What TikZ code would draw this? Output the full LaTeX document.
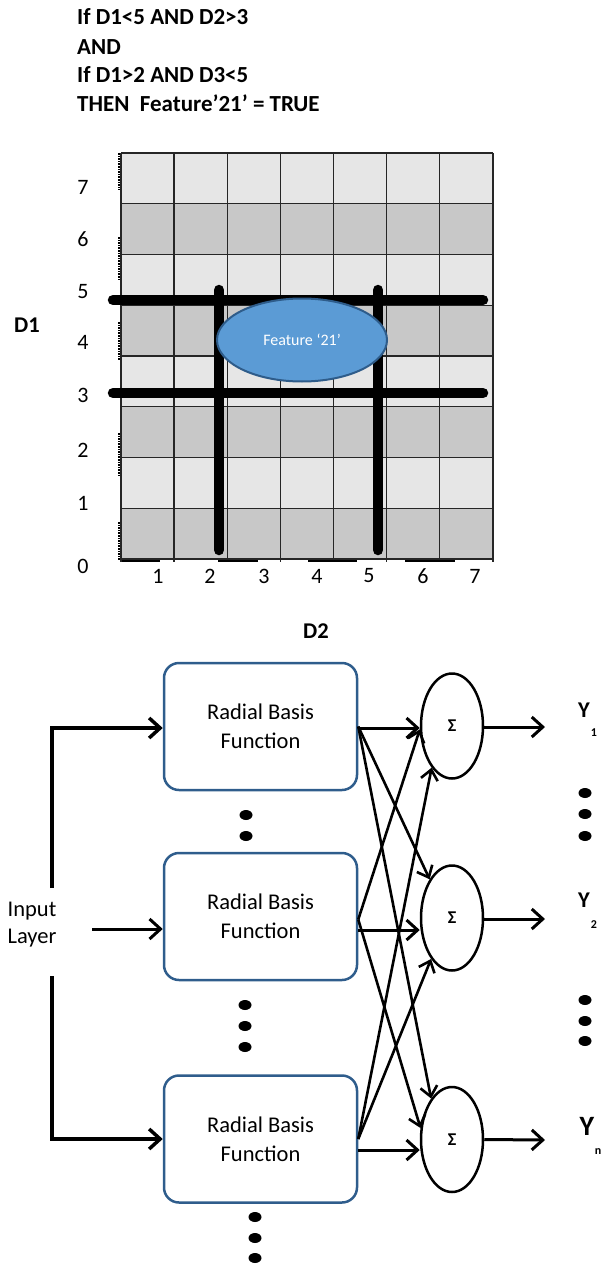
\documentclass[tikz,border=0pt]{standalone}
\usepackage{fontspec}
\setmainfont{Carlito}
\usetikzlibrary{arrows.meta,shapes.geometric}
\definecolor{lightcell}{HTML}{E6E6E6}
\definecolor{darkcell}{HTML}{C8C8C8}
\definecolor{featfill}{HTML}{5B9BD5}
\definecolor{featedge}{HTML}{2E5C8A}
\definecolor{rbfedge}{HTML}{2F5D8C}
\tikzset{
  txt/.style={inner sep=0pt, font=\fontsize{22.5}{27}\selectfont},
  btxt/.style={inner sep=0pt, font=\fontsize{23}{29}\selectfont\bfseries},
  num/.style={inner sep=0pt, font=\fontsize{22}{26}\selectfont},
  gridline/.style={line width=1.3pt, black!85},
  bar/.style={line width=10.5pt, line cap=round, black},
  rbf/.style={draw=rbfedge, line width=2.5pt, rounded corners=15pt, minimum width=193pt, minimum height=127pt, align=center, inner sep=0pt, font=\fontsize{22.5}{29}\selectfont},
  sumnode/.style={ellipse, draw, line width=2.5pt, minimum width=62pt, minimum height=105pt, inner sep=0pt, font=\fontsize{18}{18}\selectfont\bfseries},
  arr/.style={-{Straight Barb[length=11pt,width=20pt]}, line width=3pt},
  xarr/.style={-{Straight Barb[length=10pt,width=17pt]}, line width=2.6pt},
  inarr/.style={-{Straight Barb[length=11pt,width=20pt]}, line width=3.5pt},
  ylab/.style={inner sep=0pt, font=\fontsize{22.5}{26}\selectfont\bfseries},
  ysub/.style={inner sep=0pt, font=\fontsize{12}{14}\selectfont\bfseries},
  dot/.style={fill=black}
}
\begin{document}
\begin{tikzpicture}[x=1pt,y=-1pt]
\useasboundingbox (0,0) rectangle (610,1268);

% rule text
\node[btxt, anchor=base west] (t1) at (77,25) {If D1<5 AND D2>3};
\node[btxt, anchor=base west] (t2) at (77,55) {AND};
\node[btxt, anchor=base west] (t3) at (77,83) {If D1>2 AND D3<5};
\node[btxt, anchor=base west] (t4) at (77,112) {THEN\ \ Feature’21’ = TRUE};

% grid cells
\foreach \i in {0,2,4,6}
  \fill[lightcell] (121,{153+\i*50.75}) rectangle (493,{153+(\i+1)*50.75});
\foreach \i in {1,3,5,7}
  \fill[darkcell] (121,{153+\i*50.75}) rectangle (493,{153+(\i+1)*50.75});
\foreach \i in {0,...,8}
  \draw[gridline] (121,{153+\i*50.75}) -- (493,{153+\i*50.75});
\foreach \j in {0,...,7}
  \draw[gridline] ({121+\j*53.14},153) -- ({121+\j*53.14},562);
% axis fragments
\foreach \a/\b in {122/160,218/258,308/357,405/455}
  \draw[line width=2pt] (\a,561) -- (\b,561);
\foreach \a/\b in {153/190,237/280,322/360,433/477,522/560}
  \draw[line width=1.6pt, densely dotted] (119,\a) -- (119,\b);

% axis numbers
\foreach \n/\yy in {0/566,1/503,2/450,3/395,4/342,5/292,6/239,7/187}
  \node[num] (r\n) at (83,\yy) {\n};
\foreach \n/\xx in {1/158,2/210,3/264,4/317,5/369,6/423,7/475}
  \node[num] (c\n) at (\xx,576) {\n};
\node[btxt, font=\fontsize{22.5}{26}\selectfont\bfseries] (d1) at (27,325) {D1};
\node[btxt, font=\fontsize{22.5}{26}\selectfont\bfseries] (d2) at (316,631) {D2};

% thick boundary lines
\draw[bar] (113,300) -- (483,300);
\draw[bar] (113,393) -- (483,393);
\draw[bar] (219,290) -- (219,550);
\draw[bar] (378,290) -- (378,550);

% feature ellipse
\node[ellipse, fill=featfill, draw=featedge, line width=2pt, minimum width=170pt, minimum height=83pt, inner sep=0pt,
      text=white, font=\fontsize{16}{18}\selectfont] (feat) at (302,340) {Feature ‘21’};

% network
\node[rbf] (b1) at (260.5,726.5) {Radial Basis\\Function};
\node[rbf] (b2) at (260.5,916.5) {Radial Basis\\Function};
\node[rbf] (b3) at (260.5,1139) {Radial Basis\\Function};

\node[sumnode] (e1) at (452,726) {Σ};
\node[sumnode] (e2) at (452,918) {Σ};
\node[sumnode] (e3) at (452,1139.5) {Σ};

% input
\node[txt, align=center, font=\fontsize{22.5}{27}\selectfont] (inp) at (32,925) {Input\\Layer};
\coordinate (inA) at (52,888);
\coordinate (inB) at (52,976);
\coordinate (inC) at (92,929);
\draw[inarr] (inA) |- ([yshift=-1.5pt]b1.west);
\draw[inarr] (inB) |- (b3.west);
\draw[arr] (inC) -- ([yshift=-12.5pt]b2.west);

% hidden to output connections
\draw[arr] ([yshift=-1.5pt]b1.east) -- ([yshift=-1.5pt]b1.east -| e1.west);
\draw[arr] ([yshift=-13.5pt]b2.east) -- ([yshift=-13.5pt]b2.east -| e2.west);
\draw[arr] ([yshift=-11pt]b3.east) -- ([yshift=-11pt]b3.east -| e3.west);
\draw[xarr] (b1.east) -- (e2.120);
\draw[xarr] (b1.east) -- (e3.117);
\draw[xarr] ([yshift=-3pt]b2.east) -- (e1.186);
\draw[xarr] ([yshift=-3pt]b2.east) -- (e3.160);
\draw[xarr] (b3.east) -- (e1.244);
\draw[xarr] (b3.east) -- (e2.243);

% outputs
\coordinate (o1) at (545,727);
\coordinate (o2) at (545,919);
\coordinate (o3) at (545,1140);
\draw[arr] ([yshift=-1pt]e1.east) -- (o1);
\draw[arr] ([yshift=-1pt]e2.east) -- (o2);
\draw[arr] (e3.east) -- (o3);

\node[ylab] (y1) at (584,710) {Y};
\node[ysub] (s1) at (594,733) {1};
\node[ylab] (y2) at (584,900) {Y};
\node[ysub] (s2) at (594,925) {2};
\node[ylab, font=\fontsize{28}{30}\selectfont\bfseries] (yn) at (587,1126) {Y};
\node[ysub] (sn) at (598,1152) {n};

% ellipsis dots
\foreach \xx/\yy in {246/815,246/836,
                     245/1005,245/1026,245/1047,
                     255/1217,255/1238,255/1258,
                     585/793,585/814,585/836,
                     585/1000,585/1021,585/1041}
  \fill[dot] (\xx,\yy) ellipse [x radius=6.5pt, y radius=5pt];
\end{tikzpicture}
\end{document}
